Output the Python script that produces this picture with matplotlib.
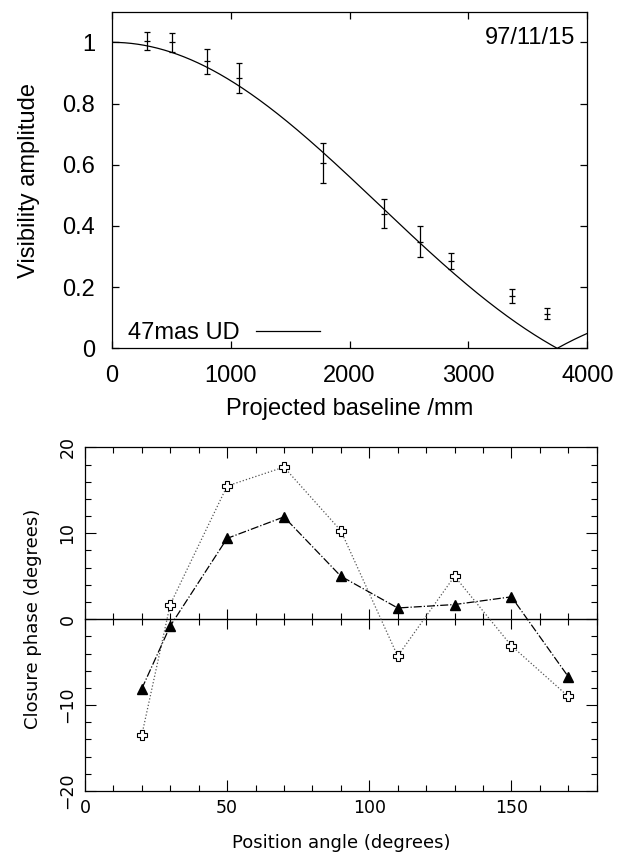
import numpy as np
import matplotlib
matplotlib.use("Agg")
import matplotlib.pyplot as plt
from matplotlib.ticker import MultipleLocator, NullFormatter

# visibility measurements (baseline in mm)
baseline = [300, 505, 805, 1070, 1780, 2290, 2590, 2855, 3365, 3665]
vis_amp = [1.005, 1.000, 0.938, 0.884, 0.605, 0.440, 0.349, 0.286, 0.170, 0.113]
vis_err = [0.030, 0.032, 0.040, 0.050, 0.066, 0.048, 0.050, 0.027, 0.023, 0.018]

# uniform disk model
ud_diam_mas = 47.0
wavelength_m = 700e-9

# closure phases
pos_angle = [20, 30, 50, 70, 90, 110, 130, 150, 170]
cp_dotted = [-13.5, 1.7, 15.5, 17.7, 10.3, -4.3, 5.0, -3.1, -9.0]
cp_dashdot = [-8.1, -0.8, 9.4, 11.9, 5.0, 1.3, 1.7, 2.6, -6.7]


def bessel_j1(x):
    tau = np.linspace(0, np.pi, 2001)
    integrand = np.cos(tau[None, :] - x[:, None] * np.sin(tau[None, :]))
    return np.trapezoid(integrand, tau, axis=1) / np.pi


def ud_visibility(b_mm):
    theta = ud_diam_mas / 206264806.0
    x = np.pi * theta * (b_mm / 1000.0) / wavelength_m
    x = np.where(x == 0, 1e-9, x)
    return np.abs(2 * bessel_j1(x) / x)


fig = plt.figure(figsize=(6.29, 8.55), dpi=100)

# ---- visibility panel ----
helv = "Liberation Sans"
ax1 = fig.add_axes([0.1776, 0.5926, 0.7561, 0.3937])
bb = np.linspace(0, 4000, 800)
ax1.plot(bb, ud_visibility(bb), color="black", lw=0.9, label="47mas UD")
ax1.errorbar(baseline, vis_amp, yerr=vis_err, fmt="_", color="black",
             ms=5, elinewidth=0.9, capsize=2.5, capthick=0.9, mew=0.9)
ax1.set_xlim(0, 4000)
ax1.set_ylim(0, 1.1)
ax1.xaxis.set_major_locator(MultipleLocator(1000))
ax1.set_yticks([0, 0.2, 0.4, 0.6, 0.8, 1.0])
ax1.set_yticklabels(["0", "0.2", "0.4", "0.6", "0.8", "1"])
ax1.tick_params(direction="in", top=True, right=True, length=5, width=0.9,
                labelsize=17, pad=12)
for lab in ax1.get_xticklabels() + ax1.get_yticklabels():
    lab.set_family(helv)
for s in ax1.spines.values():
    s.set_linewidth(0.9)
ax1.set_xlabel("Projected baseline /mm", family=helv, fontsize=17, labelpad=8)
ax1.set_ylabel("Visibility amplitude", family=helv, fontsize=17, labelpad=16)
ax1.text(0.975, 0.955, "97/11/15", transform=ax1.transAxes, ha="right",
         va="top", family=helv, fontsize=17)
ax1.legend(loc="lower left", bbox_to_anchor=(0.0244, -0.001), frameon=False,
           markerfirst=False, prop={"family": helv, "size": 17},
           handlelength=2.7, handletextpad=0.7, borderaxespad=0,
           borderpad=0.2)

# ---- closure phase panel ----
thin = {"family": "DejaVu Sans", "weight": "normal"}
ax2 = fig.add_axes([0.1350, 0.0749, 0.8137, 0.4019])
ax2.plot(pos_angle, cp_dotted, ls=":", color="#555555", lw=0.9,
         marker="P", ms=7, mfc="white", mec="black", mew=0.8)
ax2.plot(pos_angle, cp_dashdot, ls="-.", color="black", lw=0.9,
         marker="^", ms=7, mfc="black", mec="black")
ax2.set_xlim(0, 180)
ax2.set_ylim(-20, 20)
ax2.xaxis.set_major_locator(MultipleLocator(50))
ax2.xaxis.set_minor_locator(MultipleLocator(10))
ax2.yaxis.set_major_locator(MultipleLocator(10))
ax2.yaxis.set_minor_locator(MultipleLocator(2))
ax2.tick_params(which="both", direction="in", top=True, right=True,
                width=0.8, labelsize=12.5)
ax2.tick_params(which="major", length=8)
ax2.tick_params(which="minor", length=4)
ax2.tick_params(axis="x", pad=6)
ax2.tick_params(axis="y", pad=6)
for lab in ax2.get_yticklabels():
    lab.set_rotation(90)
    lab.set_va("center")

for s in ax2.spines.values():
    s.set_linewidth(0.9)

# zero line with ticks crossing it
zero_ax = ax2.secondary_xaxis(0.5)
zero_ax.xaxis.set_major_locator(MultipleLocator(50))
zero_ax.xaxis.set_minor_locator(MultipleLocator(10))
zero_ax.xaxis.set_major_formatter(NullFormatter())
zero_ax.tick_params(which="both", direction="inout", labeltop=False,
                    labelbottom=False, width=0.8)
zero_ax.tick_params(which="major", length=14)
zero_ax.tick_params(which="minor", length=8)
for s in zero_ax.spines.values():
    s.set_linewidth(1.0)

ax2.set_xlabel("Position angle (degrees)", fontsize=13, labelpad=12, **thin)
ax2.set_ylabel("Closure phase (degrees)", fontsize=13, labelpad=12, **thin)

fig.savefig("out.png", dpi=100)
